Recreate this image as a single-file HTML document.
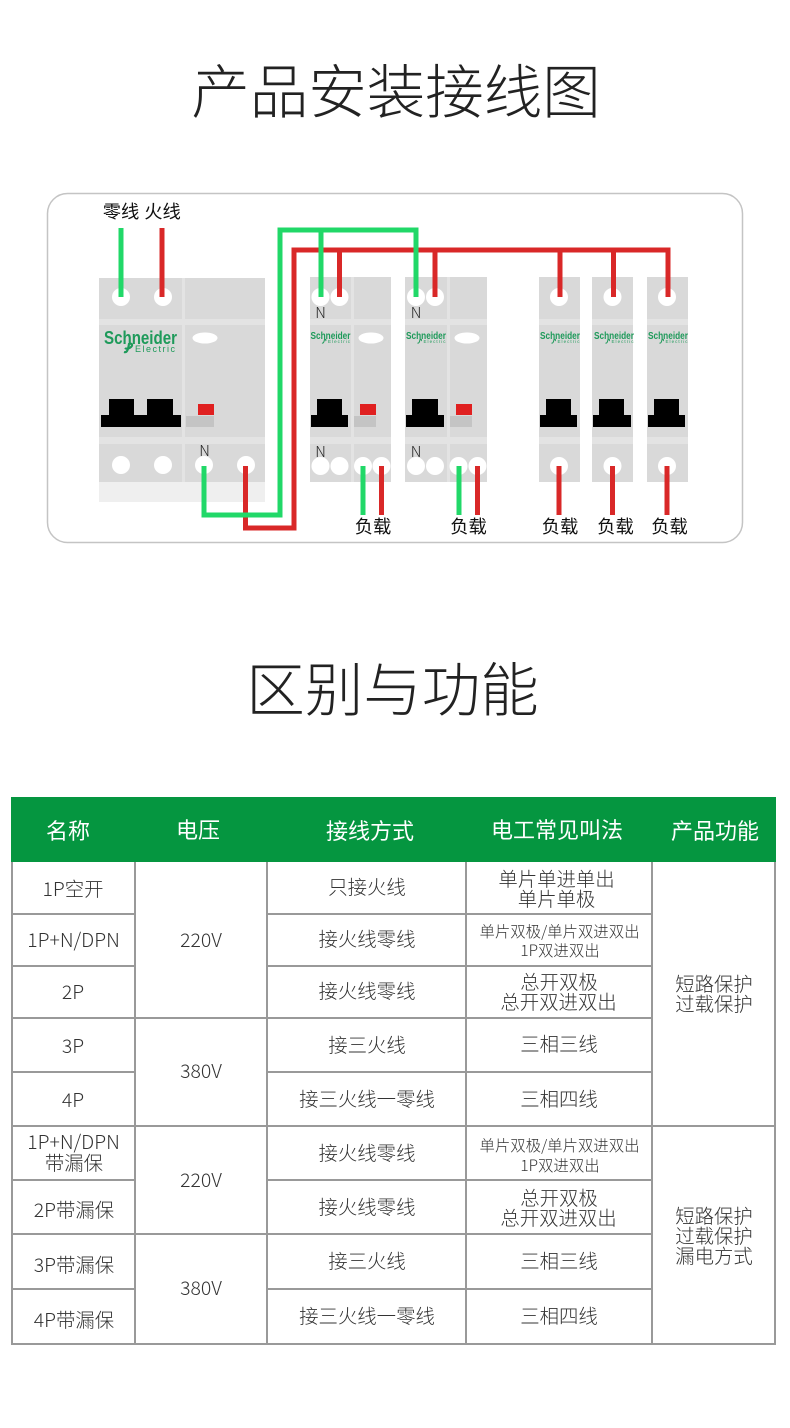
<!DOCTYPE html>
<html><head><meta charset="utf-8">
<style>
html,body{margin:0;padding:0;background:#fff;width:790px;height:1428px;overflow:hidden}
svg{display:block}
text{font-family:"Liberation Sans","Noto Sans CJK SC",sans-serif}
.t{font-size:58.5px;font-weight:300;fill:#222;text-anchor:middle;font-family:"Noto Sans CJK SC",sans-serif}
.h{font-size:22px;fill:#fff;text-anchor:middle;font-family:"Noto Sans CJK SC",sans-serif}
.b{font-size:19.4px;font-weight:300;fill:#333;text-anchor:middle;font-family:"Noto Sans CJK SC",sans-serif}
.s{font-size:15.4px;font-weight:300;fill:#333;text-anchor:middle;font-family:"Noto Sans CJK SC",sans-serif}
.l{font-size:18.3px;fill:#111;text-anchor:middle;font-family:"Noto Sans CJK SC",sans-serif}
.n{font-size:15px;font-weight:300;fill:#222;text-anchor:middle;font-family:"Noto Sans CJK SC",sans-serif}
.g{fill:none;stroke:#21d868;stroke-width:5}
.r{fill:none;stroke:#d92828;stroke-width:5}
.lg{fill:#1e9a5a;font-weight:bold;text-anchor:middle;font-family:"Liberation Sans",sans-serif}
.el{fill:#1e9a5a;font-weight:normal;text-anchor:middle;font-family:"Liberation Sans",sans-serif}
.ic{fill:none;stroke:#1e9a5a}
.line{stroke:#999;stroke-width:2}
</style></head>
<body>
<svg width="790" height="1428" viewBox="0 0 790 1428" xmlns="http://www.w3.org/2000/svg">
<rect width="790" height="1428" fill="#fff"/>
<text class="t" x="396" y="113">产品安装接线图</text>
<rect x="47.5" y="193.5" width="695" height="349" rx="20" fill="#fff" stroke="#c4c4c4" stroke-width="1.5"/>

<!-- big breaker -->
<rect x="99" y="278" width="166" height="204" fill="#d9d9d9"/>
<rect x="99" y="482" width="166" height="20" fill="#efefef"/>
<rect x="99" y="319" width="166" height="6" fill="#e3e3e3"/>
<rect x="99" y="437" width="166" height="7" fill="#e3e3e3"/>
<rect x="182" y="278" width="3" height="204" fill="#e3e3e3"/>
<g fill="#fff"><circle cx="121" cy="297" r="9"/><circle cx="163" cy="297" r="9"/><circle cx="121" cy="465" r="9"/><circle cx="163" cy="465" r="9"/><circle cx="204" cy="465" r="9"/><circle cx="246" cy="465" r="9"/><ellipse cx="205" cy="338" rx="12.5" ry="5.5"/></g>
<text class="lg" x="140.500" y="344" font-size="18" textLength="73" lengthAdjust="spacingAndGlyphs">Schneider</text>
<text class="el" x="155" y="352" font-size="9" textLength="40">Electric</text>
<path class="ic" stroke-width="2.200" d="M124 352c3 1 4-2 5-8c3-1 4 1 2 3c-2 2-5 2-6 1"/>
<path d="M101 415h8v-16h25v16h13v-16h26v16h8v12h-80z" fill="#000"/>
<rect x="198" y="404" width="16" height="11" fill="#e02020"/>
<rect x="186" y="416" width="28" height="11" fill="#c4c4c4"/>
<text class="n" x="204.500" y="456">N</text>

<!-- medium breakers -->
<g>
<rect x="310" y="277" width="81" height="205" fill="#d9d9d9"/>
<rect x="310" y="319" width="81" height="6" fill="#e3e3e3"/>
<rect x="310" y="437" width="81" height="7" fill="#e3e3e3"/>
<rect x="351" y="277" width="3" height="205" fill="#e3e3e3"/>
<g fill="#fff"><circle cx="320.500" cy="297" r="9"/><circle cx="339.500" cy="297" r="9"/><circle cx="320.500" cy="466" r="9"/><circle cx="339.500" cy="466" r="9"/><circle cx="363" cy="466" r="9"/><circle cx="381.500" cy="466" r="9"/><ellipse cx="371" cy="338" rx="12.500" ry="5.500"/></g>
<text class="lg" x="330.500" y="339" font-size="10" textLength="40" lengthAdjust="spacingAndGlyphs">Schneider</text>
<text class="el" x="339" y="343" font-size="4.500" textLength="22">Electric</text>
<path class="ic" d="M322 343c1.500 0.500 2-1 2.500-3.500c1.500-0.500 2 0.500 1 1.500" stroke-width="1"/>
<path d="M311 415h6v-16h25v16h6v12h-37z" fill="#000"/>
<rect x="360" y="404" width="16" height="11" fill="#e02020"/>
<rect x="354" y="416" width="22" height="11" fill="#c4c4c4"/>
<text class="n" x="320.500" y="318">N</text>
<text class="n" x="320.500" y="457">N</text>
</g>
<g>
<rect x="405" y="277" width="82" height="205" fill="#d9d9d9"/>
<rect x="405" y="319" width="82" height="6" fill="#e3e3e3"/>
<rect x="405" y="437" width="82" height="7" fill="#e3e3e3"/>
<rect x="447" y="277" width="3" height="205" fill="#e3e3e3"/>
<g fill="#fff"><circle cx="416" cy="297" r="9"/><circle cx="435" cy="297" r="9"/><circle cx="416" cy="466" r="9"/><circle cx="435" cy="466" r="9"/><circle cx="458.500" cy="466" r="9"/><circle cx="477.500" cy="466" r="9"/><ellipse cx="467" cy="338" rx="12.500" ry="5.500"/></g>
<text class="lg" x="426" y="339" font-size="10" textLength="40" lengthAdjust="spacingAndGlyphs">Schneider</text>
<text class="el" x="434.500" y="343" font-size="4.500" textLength="22">Electric</text>
<path class="ic" d="M417.500 343c1.500 0.500 2-1 2.500-3.500c1.500-0.500 2 0.500 1 1.500" stroke-width="1"/>
<path d="M406 415h6v-16h26v16h6v12h-38z" fill="#000"/>
<rect x="456" y="404" width="16" height="11" fill="#e02020"/>
<rect x="450" y="416" width="22" height="11" fill="#c4c4c4"/>
<text class="n" x="416" y="318">N</text>
<text class="n" x="416" y="457">N</text>
</g>

<!-- small breakers -->
<g>
<rect x="539" y="277" width="41" height="205" fill="#d9d9d9"/>
<rect x="539" y="319" width="41" height="6" fill="#e3e3e3"/>
<rect x="539" y="437" width="41" height="7" fill="#e3e3e3"/>
<circle cx="559" cy="297" r="9" fill="#fff"/><circle cx="559" cy="466" r="9" fill="#fff"/>
<text class="lg" x="560" y="339" font-size="10" textLength="40" lengthAdjust="spacingAndGlyphs">Schneider</text>
<text class="el" x="568.500" y="343" font-size="4.500" textLength="22">Electric</text>
<path class="ic" d="M551.500 343c1.500 0.500 2-1 2.500-3.500c1.500-0.500 2 0.500 1 1.500" stroke-width="1"/>
<path d="M540 415h6v-16h25v16h6v12h-37z" fill="#000"/>
</g>
<g>
<rect x="592" y="277" width="41" height="205" fill="#d9d9d9"/>
<rect x="592" y="319" width="41" height="6" fill="#e3e3e3"/>
<rect x="592" y="437" width="41" height="7" fill="#e3e3e3"/>
<circle cx="612.500" cy="297" r="9" fill="#fff"/><circle cx="612.500" cy="466" r="9" fill="#fff"/>
<text class="lg" x="614" y="339" font-size="10" textLength="40" lengthAdjust="spacingAndGlyphs">Schneider</text>
<text class="el" x="622.500" y="343" font-size="4.500" textLength="22">Electric</text>
<path class="ic" d="M605.500 343c1.500 0.500 2-1 2.500-3.500c1.500-0.500 2 0.500 1 1.500" stroke-width="1"/>
<path d="M593 415h6v-16h25v16h7v12h-38z" fill="#000"/>
</g>
<g>
<rect x="647" y="277" width="41" height="205" fill="#d9d9d9"/>
<rect x="647" y="319" width="41" height="6" fill="#e3e3e3"/>
<rect x="647" y="437" width="41" height="7" fill="#e3e3e3"/>
<circle cx="667" cy="297" r="9" fill="#fff"/><circle cx="667" cy="466" r="9" fill="#fff"/>
<text class="lg" x="668" y="339" font-size="10" textLength="40" lengthAdjust="spacingAndGlyphs">Schneider</text>
<text class="el" x="676.500" y="343" font-size="4.500" textLength="22">Electric</text>
<path class="ic" d="M659.500 343c1.500 0.500 2-1 2.500-3.500c1.500-0.500 2 0.500 1 1.500" stroke-width="1"/>
<path d="M648 415h6v-16h25v16h6v12h-37z" fill="#000"/>
</g>

<!-- wires -->
<path class="r" d="M162 228V297"/>
<path class="r" d="M245.500 466V528H294V250H668V297"/>
<path class="r" d="M339.500 250V297M435 250V297M560 250V297M613.500 250V297"/>
<path class="r" d="M381.500 466V515M477.500 466V515M559 466V515M612.500 466V515M667 466V515"/>
<path class="g" d="M121 228V297"/>
<path class="g" d="M204 466V515H280V230H416V297"/>
<path class="g" d="M321 230V297"/>
<path class="g" d="M363 466V515M459 466V515"/>

<text class="l" x="121" y="218">零线</text>
<text class="l" x="162.500" y="218">火线</text>
<text class="l" x="373" y="533">负载</text>
<text class="l" x="468.500" y="533">负载</text>
<text class="l" x="560" y="533">负载</text>
<text class="l" x="615.500" y="533">负载</text>
<text class="l" x="669.500" y="533">负载</text>

<text class="t" x="392.500" y="711">区别与功能</text>

<!-- table -->
<rect x="11" y="797" width="765" height="65" fill="#059640"/>
<text class="h" x="68" y="839">名称</text>
<text class="h" x="198" y="838">电压</text>
<text class="h" x="370" y="839">接线方式</text>
<text class="h" x="557" y="838">电工常见叫法</text>
<text class="h" x="715" y="839">产品功能</text>

<g class="line" fill="none">
<line x1="12" y1="862" x2="12" y2="1345"/>
<line x1="135" y1="862" x2="135" y2="1345"/>
<line x1="267" y1="862" x2="267" y2="1345"/>
<line x1="466" y1="862" x2="466" y2="1345"/>
<line x1="652" y1="862" x2="652" y2="1345"/>
<line x1="775" y1="862" x2="775" y2="1345"/>
<line x1="11" y1="914" x2="135" y2="914"/><line x1="267" y1="914" x2="652" y2="914"/>
<line x1="11" y1="966" x2="135" y2="966"/><line x1="267" y1="966" x2="652" y2="966"/>
<line x1="11" y1="1018" x2="652" y2="1018"/>
<line x1="11" y1="1072" x2="135" y2="1072"/><line x1="267" y1="1072" x2="652" y2="1072"/>
<line x1="11" y1="1126" x2="776" y2="1126"/>
<line x1="11" y1="1180" x2="135" y2="1180"/><line x1="267" y1="1180" x2="652" y2="1180"/>
<line x1="11" y1="1234" x2="652" y2="1234"/>
<line x1="11" y1="1289" x2="135" y2="1289"/><line x1="267" y1="1289" x2="652" y2="1289"/>
<line x1="11" y1="1344" x2="776" y2="1344"/>
</g>

<text class="b" x="73" y="896">1P空开</text>
<text class="b" x="73.500" y="947">1P+N/DPN</text>
<text class="b" x="73" y="999">2P</text>
<text class="b" x="73" y="1053">3P</text>
<text class="b" x="73" y="1107">4P</text>
<text class="b" x="73.500" y="1149">1P+N/DPN</text>
<text class="b" x="74" y="1170">带漏保</text>
<text class="b" x="74" y="1217">2P带漏保</text>
<text class="b" x="74" y="1272">3P带漏保</text>
<text class="b" x="74" y="1327">4P带漏保</text>

<text class="b" x="201" y="947">220V</text>
<text class="b" x="201" y="1078">380V</text>
<text class="b" x="201" y="1187">220V</text>
<text class="b" x="201" y="1295">380V</text>

<text class="b" x="367" y="894">只接火线</text>
<text class="b" x="367" y="946">接火线零线</text>
<text class="b" x="367" y="998">接火线零线</text>
<text class="b" x="367" y="1052">接三火线</text>
<text class="b" x="367" y="1106">接三火线一零线</text>
<text class="b" x="367" y="1160">接火线零线</text>
<text class="b" x="367" y="1214">接火线零线</text>
<text class="b" x="367" y="1268">接三火线</text>
<text class="b" x="367" y="1323">接三火线一零线</text>

<text class="b" x="556.500" y="886">单片单进单出</text>
<text class="b" x="556.500" y="906">单片单极</text>
<text class="s" x="559.500" y="937">单片双极/单片双进双出</text>
<text class="s" x="560" y="956">1P双进双出</text>
<text class="b" x="559" y="989">总开双极</text>
<text class="b" x="558.500" y="1009">总开双进双出</text>
<text class="b" x="559" y="1051">三相三线</text>
<text class="b" x="559" y="1106">三相四线</text>
<text class="s" x="559.500" y="1151">单片双极/单片双进双出</text>
<text class="s" x="560" y="1171">1P双进双出</text>
<text class="b" x="559" y="1205">总开双极</text>
<text class="b" x="558.500" y="1225">总开双进双出</text>
<text class="b" x="559" y="1268">三相三线</text>
<text class="b" x="559" y="1323">三相四线</text>

<text class="b" x="714" y="991">短路保护</text>
<text class="b" x="714" y="1011">过载保护</text>
<text class="b" x="714" y="1223">短路保护</text>
<text class="b" x="714" y="1243">过载保护</text>
<text class="b" x="714" y="1263">漏电方式</text>
</svg>
</body></html>
